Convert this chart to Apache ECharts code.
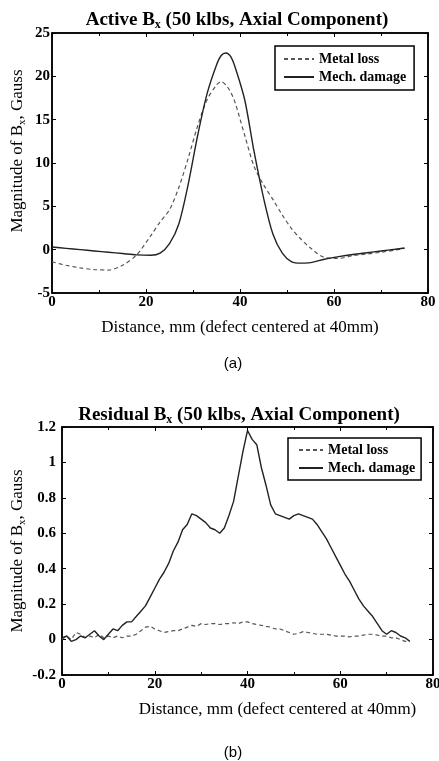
<!DOCTYPE html>
<html>
<head>
<meta charset="utf-8">
<script src="https://cdn.jsdelivr.net/npm/echarts@6/dist/echarts.min.js"></script>
<style>
  html, body { margin: 0; padding: 0; background: #fff; }
  #chart { width: 439px; height: 761px; }
</style>
</head>
<body>
<div id="chart"></div>
<script>
// (a) active Bx
const distA = [0, 3, 6, 9, 12, 15, 18, 21, 23, 25, 27, 29, 31, 33, 35, 36, 37, 38, 39, 41, 43, 45, 47, 49, 51, 53, 55, 58, 61, 64, 67, 70, 73, 75];
const metalLossA = [-1.4, -1.8, -2.1, -2.3, -2.35, -1.8, -0.6, 1.6, 3.2, 4.6, 7.2, 10.6, 14.3, 17.3, 19.0, 19.4, 19.0, 18.2, 16.9, 13.2, 9.6, 7.5, 5.8, 4.0, 2.4, 1.2, 0.2, -0.9, -1.0, -0.7, -0.5, -0.3, -0.05, 0.15];
const mechDamageA = [0.3, 0.15, 0.0, -0.15, -0.3, -0.45, -0.6, -0.65, -0.4, 0.7, 3.0, 7.6, 13.2, 18.0, 21.3, 22.4, 22.7, 22.3, 21.0, 17.3, 11.3, 6.0, 1.8, -0.4, -1.4, -1.55, -1.5, -1.1, -0.8, -0.55, -0.35, -0.15, 0.05, 0.2];

// (b) residual Bx, 1 mm steps
const distB = [];
for (let i = 0; i <= 75; i++) distB.push(i);
const metalLossB = [0.0, 0.02, 0.0, 0.04, 0.03, 0.01, 0.02, 0.01, 0.03, 0.01, 0.02, 0.01, 0.02, 0.01, 0.02, 0.02, 0.03, 0.05, 0.07, 0.075,
  0.06, 0.05, 0.04, 0.045, 0.05, 0.05, 0.06, 0.07, 0.08, 0.075, 0.09, 0.085, 0.09, 0.09, 0.085, 0.09, 0.09, 0.095, 0.09, 0.1,
  0.1, 0.09, 0.085, 0.08, 0.075, 0.07, 0.06, 0.06, 0.05, 0.04, 0.03, 0.035, 0.045, 0.04, 0.035, 0.03, 0.03, 0.03, 0.025, 0.02,
  0.02, 0.02, 0.015, 0.02, 0.02, 0.025, 0.03, 0.03, 0.025, 0.02, 0.02, 0.01, 0.01, 0.0, -0.01, -0.01];
const mechDamageB = [0.01, 0.02, -0.01, 0.0, 0.02, 0.01, 0.03, 0.05, 0.02, 0.0, 0.03, 0.06, 0.05, 0.08, 0.1, 0.1, 0.13, 0.16, 0.19, 0.24,
  0.29, 0.34, 0.38, 0.43, 0.5, 0.55, 0.62, 0.65, 0.71, 0.7, 0.68, 0.66, 0.63, 0.62, 0.6, 0.63, 0.7, 0.78, 0.92, 1.06,
  1.18, 1.13, 1.1, 0.97, 0.87, 0.76, 0.71, 0.7, 0.69, 0.68, 0.7, 0.71, 0.7, 0.69, 0.68, 0.65, 0.61, 0.57, 0.52, 0.47,
  0.42, 0.37, 0.33, 0.28, 0.23, 0.19, 0.16, 0.13, 0.09, 0.05, 0.03, 0.05, 0.04, 0.02, 0.01, -0.01];

const serif = 'Liberation Serif';
const pairs = (xs, ys) => xs.map((x, i) => [x, ys[i]]);

const titleRich = {
  b: { fontFamily: serif, fontWeight: 'bold', fontSize: 19, color: '#000', lineHeight: 22 },
  s: { fontFamily: serif, fontWeight: 'bold', fontSize: 12, color: '#000', lineHeight: 22, verticalAlign: 'bottom', padding: [10, 0, 0, 0] }
};
const nameRich = {
  n: { fontFamily: serif, fontSize: 17, color: '#000', lineHeight: 20 },
  s: { fontFamily: serif, fontSize: 11, color: '#000', lineHeight: 20, verticalAlign: 'bottom', padding: [9, 0, 0, 0] }
};

function xAxes(grid, namePad) {
  const base = {
    gridIndex: grid, type: 'value', min: 0, max: 80, interval: 20,
    axisLine: { show: true, onZero: false, lineStyle: { color: '#000', width: 1.5 } },
    axisTick: { show: true, inside: true, length: 4, lineStyle: { color: '#000' } },
    minorTick: { show: true, splitNumber: 2, length: 3, lineStyle: { color: '#000' } },
    splitLine: { show: false }
  };
  return [
    Object.assign({}, base, {
      position: 'bottom',
      axisLabel: { margin: 2, fontFamily: serif, fontWeight: 'bold', fontSize: 15, color: '#000' },
      name: 'Distance, mm (defect centered at 40mm)', nameLocation: 'middle', nameGap: 26,
      nameTextStyle: { fontFamily: serif, fontSize: 17, color: '#000', padding: namePad }
    }),
    Object.assign({}, base, { position: 'top', axisLabel: { show: false } })
  ];
}
function yAxes(grid, min, max, interval, margin, gap, namePad) {
  const base = {
    gridIndex: grid, type: 'value', min: min, max: max, interval: interval,
    axisLine: { show: true, onZero: false, lineStyle: { color: '#000', width: 1.5 } },
    axisTick: { show: true, inside: true, length: 4, lineStyle: { color: '#000' } },
    splitLine: { show: false }
  };
  return [
    Object.assign({}, base, {
      position: 'left',
      axisLabel: { margin: margin, fontFamily: serif, fontWeight: 'bold', fontSize: 15, color: '#000' },
      name: '{n|Magnitude of B}{s|x}{n|, Gauss}', nameLocation: 'middle', nameGap: gap, nameMoveOverlap: false,
      nameTextStyle: { rich: nameRich, padding: namePad }
    }),
    Object.assign({}, base, { position: 'right', axisLabel: { show: false } })
  ];
}

const chart = echarts.init(document.getElementById('chart'), null, { renderer: 'canvas' });
const legendBase = {
  orient: 'vertical', itemHeight: 12, itemGap: 4,
  borderColor: '#000', borderWidth: 1.5, backgroundColor: '#fff',
  itemStyle: { opacity: 0 },
  textStyle: { fontFamily: serif, fontWeight: 'bold', fontSize: 14, color: '#000' },
  data: ['Metal loss', 'Mech. damage']
};
const metalStyle = { color: '#555', width: 1.2, type: [4, 3] };
const mechStyle = { color: '#222', width: 1.4 };

const option = {
  animation: false,
  backgroundColor: '#fff',
  title: [
    { text: '{b|Active B}{s|x}{b| (50 klbs, Axial Component)}', left: 232, top: 4, textAlign: 'center', textStyle: { rich: titleRich } },
    { text: '{b|Residual B}{s|x}{b| (50 klbs, Axial Component)}', left: 234, top: 399, textAlign: 'center', textStyle: { rich: titleRich } },
    { text: '(a)', left: 228, top: 351, textAlign: 'center', textStyle: { fontFamily: 'Liberation Sans', fontWeight: 'normal', fontSize: 15, color: '#000' } },
    { text: '(b)', left: 228, top: 740, textAlign: 'center', textStyle: { fontFamily: 'Liberation Sans', fontWeight: 'normal', fontSize: 15, color: '#000' } }
  ],
  grid: [
    { left: 52, right: 11, top: 33, height: 260, outerBoundsMode: 'none', show: true, borderColor: '#000', borderWidth: 1.5, backgroundColor: 'transparent' },
    { left: 62, right: 6, top: 427, height: 248, outerBoundsMode: 'none', show: true, borderColor: '#000', borderWidth: 1.5, backgroundColor: 'transparent' }
  ],
  legend: [
    Object.assign({}, legendBase, { left: 275, top: 46, itemWidth: 30, padding: [6, 8, 6, 8] }),
    Object.assign({}, legendBase, { left: 288, top: 438, itemWidth: 24, padding: [5, 6, 5, 10] })
  ],
  xAxis: xAxes(0, [0, 0, 0, 0]).concat(xAxes(1, [0, 0, 0, 60])),
  yAxis: yAxes(0, -5, 25, 5, 2, 24, [0, 0, 0, 24]).concat(yAxes(1, -0.2, 1.2, 0.2, 6, 34, [0, 0, 0, 0])),
  series: [
    { name: 'Metal loss', type: 'line', xAxisIndex: 0, yAxisIndex: 0, data: pairs(distA, metalLossA), smooth: 0.3, symbol: 'none', lineStyle: metalStyle, itemStyle: { color: '#555' } },
    { name: 'Mech. damage', type: 'line', xAxisIndex: 0, yAxisIndex: 0, data: pairs(distA, mechDamageA), smooth: 0.3, symbol: 'none', lineStyle: mechStyle, itemStyle: { color: '#222' } },
    { name: 'Metal loss', type: 'line', xAxisIndex: 2, yAxisIndex: 2, data: pairs(distB, metalLossB), symbol: 'none', lineStyle: metalStyle, itemStyle: { color: '#555' } },
    { name: 'Mech. damage', type: 'line', xAxisIndex: 2, yAxisIndex: 2, data: pairs(distB, mechDamageB), symbol: 'none', lineStyle: mechStyle, itemStyle: { color: '#222' } }
  ]
};
chart.setOption(option);
</script>
</body>
</html>
